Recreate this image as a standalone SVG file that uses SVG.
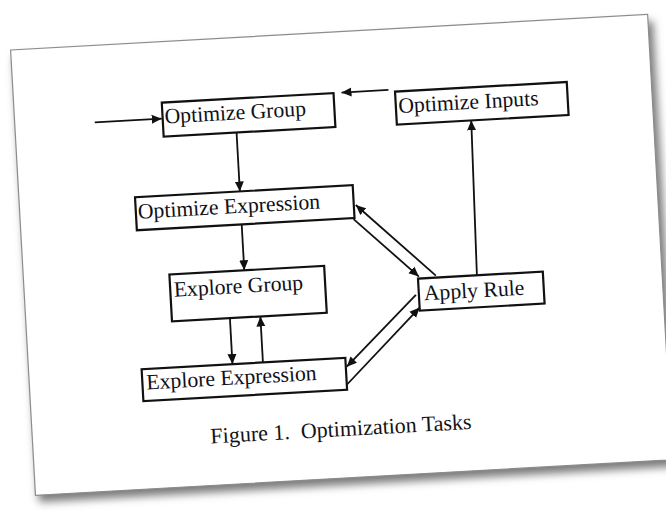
<svg xmlns="http://www.w3.org/2000/svg" width="666" height="511" viewBox="0 0 666 511">
  <defs>
    <filter id="pageShadow" x="-10%" y="-10%" width="120%" height="125%">
      <feGaussianBlur stdDeviation="4"/>
    </filter>
    <marker id="arrow" viewBox="0 0 10 10" refX="10" refY="5" markerWidth="10" markerHeight="10" markerUnits="userSpaceOnUse" orient="auto">
      <path d="M0,0.5 L10,5 L0,9.5 z" fill="#111"/>
    </marker>
    <style>
      .box { fill: #fff; stroke: #111; stroke-width: 2.2; }
      .label { font-family: "Liberation Serif", "Times New Roman", serif; font-size: 21.7px; fill: #101018; }
      .caption { font-family: "Liberation Serif", "Times New Roman", serif; font-size: 22px; fill: #141414; white-space: pre; }
      .edge { stroke: #111; stroke-width: 1.8; fill: none; marker-end: url(#arrow); }
    </style>
  </defs>

  <rect width="666" height="511" fill="#fff"/>

  <!-- tilted sheet of paper -->
  <g transform="translate(10.6 50) rotate(-3.2)">
    <rect x="3" y="7" width="640" height="446" fill="#7a7a7a" filter="url(#pageShadow)"/>
    <rect x="0" y="0" width="638" height="446" fill="#fff" stroke="#8c8c8c" stroke-width="1.2"/>

    <g id="connectors">
      <line class="edge" x1="80" y1="77" x2="147" y2="77"/>
      <line class="edge" x1="375" y1="61" x2="328" y2="61"/>
      <line class="edge" x1="221" y1="95" x2="221" y2="154"/>
      <line class="edge" x1="221" y1="187" x2="221" y2="233"/>
      <line class="edge" x1="204" y1="280" x2="204" y2="326"/>
      <line class="edge" x1="234.5" y1="326" x2="234.5" y2="280"/>
      <line class="edge" x1="412" y1="249" x2="336" y2="174"/>
      <line class="edge" x1="333" y1="188" x2="395" y2="249"/>
      <line class="edge" x1="391" y1="267" x2="318" y2="335"/>
      <line class="edge" x1="317" y1="353" x2="394" y2="280"/>
      <line class="edge" x1="453" y1="251" x2="456" y2="96"/>
    </g>

    <g id="optimize-group">
      <rect class="box" x="148" y="61" width="172" height="34"/>
      <text class="label" x="150" y="82">Optimize Group</text>
    </g>
    <g id="optimize-inputs">
      <rect class="box" x="381.5" y="63" width="172" height="33"/>
      <text class="label" x="384" y="84.5">Optimize Inputs</text>
    </g>
    <g id="optimize-expression">
      <rect class="box" x="116" y="154" width="218" height="33"/>
      <text class="label" x="118" y="175.5">Optimize Expression</text>
    </g>
    <g id="apply-rule">
      <rect class="box" x="394" y="251" width="125" height="32"/>
      <text class="label" x="399" y="273">Apply Rule</text>
    </g>
    <g id="explore-group">
      <rect class="box" x="146" y="233" width="155" height="47"/>
      <text class="label" x="149.5" y="255.5">Explore Group</text>
    </g>
    <g id="explore-expression">
      <rect class="box" x="113" y="326" width="204" height="32"/>
      <text class="label" x="117" y="346.5">Explore Expression</text>
    </g>

    <text class="caption" x="178" y="404" xml:space="preserve">Figure 1.  Optimization Tasks</text>
  </g>
</svg>
